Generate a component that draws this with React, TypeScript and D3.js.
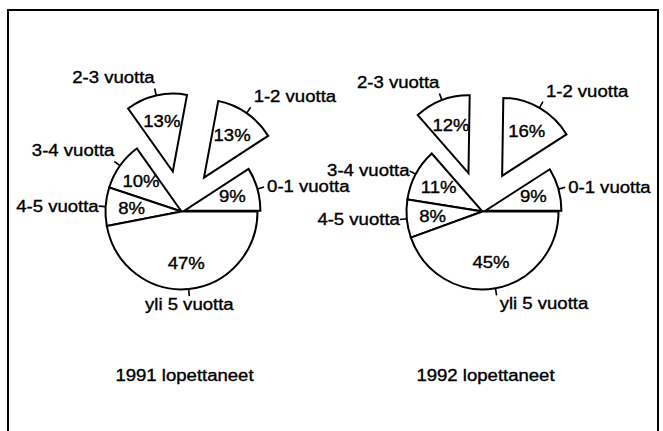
import React from 'react';
import * as d3 from 'd3';

const CATEGORIES = ['0-1 vuotta', '1-2 vuotta', '2-3 vuotta', '3-4 vuotta', '4-5 vuotta', 'yli 5 vuotta'];
const VALUES_1991 = [9, 13, 13, 10, 8, 47];
const VALUES_1992 = [9, 16, 12, 11, 8, 45];
const TITLES = ['1991 lopettaneet', '1992 lopettaneet'];
const EXPLODE = [3, 40, 40, 0, 0, 0];

const W = 663;
const H = 431;
const R = 76;
const SY = 1.025;
const TICK = 7;
const LABEL_R = 50;
const FONT = '"Liberation Sans", Arial, Helvetica, sans-serif';
const SX = 1.16;
const FS = 16;

function Txt({ x, y, anchor, children }: { x: number; y: number; anchor: string; children: React.ReactNode }) {
  return (
    <text
      transform={`translate(${x},${y}) scale(${SX},1)`}
      textAnchor={anchor}
      fontFamily={FONT}
      fontSize={FS}
      fill="#000"
      stroke="#000"
      strokeWidth={0.35}
    >
      {children}
    </text>
  );
}

function PieChart({ cx, cy, values, title }: { cx: number; cy: number; values: number[]; title: string }) {
  const pie = d3
    .pie<number>()
    .sort(null)
    .value((d) => d)
    .startAngle(Math.PI / 2)
    .endAngle(Math.PI / 2 - 2 * Math.PI);
  const arcs = pie(values);
  const arcGen = d3.arc<d3.PieArcDatum<number>>().innerRadius(0).outerRadius(R);

  const pt = (r: number, th: number, m: number, e: number): [number, number] => [
    cx + e * Math.sin(m) + r * Math.sin(th),
    cy + (-e * Math.cos(m) - r * Math.cos(th)) * SY,
  ];

  const order = arcs.map((_, i) => i).sort((a, b) => EXPLODE[a] - EXPLODE[b]);

  return (
    <g>
      <g transform={`translate(${cx},${cy}) scale(1,${SY})`}>
        {order.map((i) => {
          const a = arcs[i];
          const m = (a.startAngle + a.endAngle) / 2;
          const e = EXPLODE[i];
          return (
            <path
              key={i}
              d={arcGen(a) || ''}
              transform={`translate(${e * Math.sin(m)},${-e * Math.cos(m)})`}
              fill="#fff"
              stroke="#000"
              strokeWidth={2}
              strokeLinejoin="miter"
              vectorEffect="non-scaling-stroke"
            />
          );
        })}
      </g>
      {arcs.map((a, i) => {
        const m = (a.startAngle + a.endAngle) / 2;
        const e = EXPLODE[i];
        const [x1, y1] = pt(R, m, m, e);
        const [x2, y2] = pt(R + TICK, m, m, e);
        const c = Math.sin(m);
        const s = Math.cos(m);
        let anchor = 'middle';
        let lx = x2;
        if (c > 0.1) {
          anchor = 'start';
          lx = x2 + 3;
        } else if (c < -0.1) {
          anchor = 'end';
          lx = x2;
        }
        let ly = y2 + 5.5;
        if (s > 0.5) ly = y2 - 5;
        else if (s < -0.5) ly = y2 + 14;
        const [px, py] = pt(LABEL_R, m, m, e);
        return (
          <g key={'l' + i}>
            <line x1={x1} y1={y1} x2={x2} y2={y2} stroke="#000" strokeWidth={1.6} />
            <Txt x={lx} y={ly} anchor={anchor}>
              {CATEGORIES[i]}
            </Txt>
            <Txt x={px} y={py + 6} anchor="middle">
              {values[i] + '%'}
            </Txt>
          </g>
        );
      })}
      <Txt x={cx + 3} y={381} anchor="middle">
        {title}
      </Txt>
    </g>
  );
}

export default function App() {
  return (
    <svg
      width={W}
      height={H}
      viewBox={`0 0 ${W} ${H}`}
      style={{ position: 'absolute', left: 0, top: 0, background: '#fff' }}
    >
      <rect x={0} y={0} width={W} height={H} fill="#fff" />
      <rect x={8} y={10} width={650} height={440} fill="none" stroke="#000" strokeWidth={2} />
      <PieChart cx={181.5} cy={211.5} values={VALUES_1991} title={TITLES[0]} />
      <PieChart cx={482.5} cy={211.5} values={VALUES_1992} title={TITLES[1]} />
    </svg>
  );
}
